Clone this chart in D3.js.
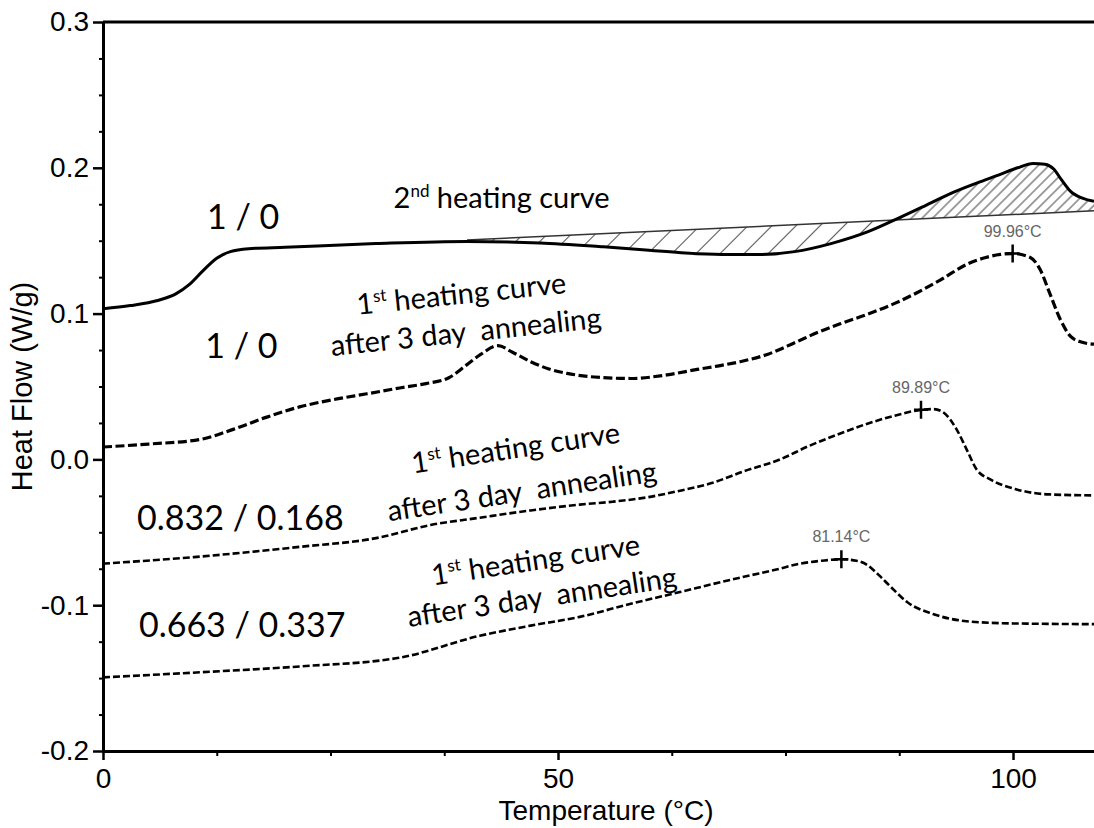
<!DOCTYPE html>
<html>
<head>
<meta charset="utf-8">
<script src="https://cdn.jsdelivr.net/npm/d3@7"></script>
<style>
  body { margin: 0; background: #fff; }
  svg { display: block; }
  .axis text { font-family: "Liberation Sans", Arial, sans-serif; font-size: 28px; fill: #000; }
  .axis path, .axis line { stroke: #000; }
  .title { font-family: "Liberation Sans", Arial, sans-serif; font-size: 28px; fill: #000; }
  .note { font-family: Lato, "Open Sans", sans-serif; fill: #000; }
  .peak { font-family: "Liberation Sans", Arial, sans-serif; font-size: 16px; fill: #666; }
</style>
</head>
<body>
<svg id="chart" width="1094" height="828"></svg>
<script>
// DSC heat flow curves, 1st and 2nd heating

var xTicks = [0, 50, 100];
var xTickLabels = ["0", "50", "100"];
var yTicks = [-0.2, -0.1, 0.0, 0.1, 0.2, 0.3];
var yTickLabels = ["-0.2", "-0.1", "0.0", "0.1", "0.2", "0.3"];

// 1/0, 2nd heating (solid)
var heat2T = [0, 3, 6, 8, 9.5, 11, 12.5, 14, 16, 20, 30, 40, 48, 55, 60, 64, 68, 72, 76, 80, 84, 87.6, 90, 93, 96, 98.6, 100.5, 102.2, 103.5, 104.5, 105.3, 106.3, 107.7, 108.9];
var heat2V = [0.1033, 0.1055, 0.109, 0.1135, 0.12, 0.1295, 0.138, 0.1425, 0.1445, 0.1455, 0.148, 0.1495, 0.1485, 0.1458, 0.1435, 0.1415, 0.1405, 0.1405, 0.1425, 0.148, 0.156, 0.166, 0.173, 0.182, 0.1895, 0.1955, 0.2, 0.203, 0.2025, 0.199, 0.192, 0.184, 0.179, 0.177];

// 1/0, 1st heating after annealing
var pureT = [0, 5, 10.7, 14.3, 18, 21.6, 25.3, 29, 32.6, 35.5, 38, 40, 41.5, 43.4, 45, 47, 49, 51, 54, 58, 62, 65.3, 67.5, 70, 73, 76, 78.5, 81, 84, 87, 89.5, 92, 95, 97, 98.6, 99.96, 101.9, 103, 104, 105.2, 106.3, 107.5, 108.9];
var pureV = [0.0085, 0.0105, 0.0137, 0.0206, 0.029, 0.036, 0.041, 0.045, 0.049, 0.052, 0.056, 0.065, 0.072, 0.078, 0.0735, 0.067, 0.062, 0.059, 0.0565, 0.0555, 0.058, 0.0617, 0.064, 0.067, 0.072, 0.08, 0.087, 0.093, 0.0995, 0.107, 0.1145, 0.123, 0.134, 0.1385, 0.1406, 0.1412, 0.1385, 0.13, 0.1145, 0.096, 0.0845, 0.0805, 0.079];

// 0.832/0.168, 1st heating after annealing
var blendAT = [0, 10, 21.6, 30, 36, 41.4, 47, 52.4, 56, 59.8, 63, 67, 70.5, 74.4, 77.5, 80.7, 84, 87, 89.89, 91.3, 92.4, 93.8, 94.9, 96, 97.5, 100.4, 104, 108.9];
var blendAV = [-0.0715, -0.067, -0.06, -0.054, -0.045, -0.04, -0.035, -0.031, -0.029, -0.026, -0.022, -0.016, -0.008, 0.0, 0.009, 0.017, 0.0245, 0.03, 0.034, 0.0345, 0.032, 0.0206, 0.0069, -0.0069, -0.0137, -0.0206, -0.024, -0.0247];

// 0.663/0.337, 1st heating after annealing
var blendBT = [0, 10.7, 21.6, 32.6, 41.4, 47, 52.4, 58, 63.4, 67, 70.8, 74, 76.6, 79, 81.14, 82.8, 84, 85.2, 86.5, 88.4, 91.2, 94.9, 100, 108.9];
var blendBV = [-0.1495, -0.146, -0.142, -0.136, -0.121, -0.114, -0.108, -0.099, -0.091, -0.0855, -0.08, -0.0755, -0.0715, -0.0695, -0.0685, -0.0695, -0.0725, -0.079, -0.087, -0.098, -0.106, -0.111, -0.1125, -0.113];

// integration baseline under the 2nd heating curve
var baseT = [40, 108.9];
var baseV = [0.1505, 0.1705];
var hatchSplitT = 86.8;

var peakT = [99.96, 89.89, 81.14];
var peakV = [0.1412, 0.034, -0.0685];
var peakLabels = ["99.96°C", "89.89°C", "81.14°C"];

var width = 1094, height = 828;
var svg = d3.select("#chart");

var x = d3.scaleLinear().domain([0, 108.9]).range([103, 1094]);
var y = d3.scaleLinear().domain([-0.2, 0.3]).range([751, 22]);

var zip = function (ts, vs) {
  return ts.map(function (t, i) { return { t: t, v: vs[i] }; });
};

///////////////////////////////////////////////////////////////////////////////
// hatch patterns

var defs = svg.append("defs");
var addHatch = function (id, gap) {
  var p = defs.append("pattern")
    .attr("id", id)
    .attr("patternUnits", "userSpaceOnUse")
    .attr("width", gap).attr("height", gap)
    .attr("patternTransform", "rotate(45)");
  p.append("line")
    .attr("x1", gap / 2).attr("y1", 0)
    .attr("x2", gap / 2).attr("y2", gap)
    .attr("stroke", "#555").attr("stroke-width", 1.1);
};
addHatch("hatchSparse", 17);
addHatch("hatchDense", 7.5);

var baseline = d3.scaleLinear().domain(baseT).range(baseV);

defs.append("clipPath").attr("id", "clipLeft").append("rect")
  .attr("x", x(baseT[0])).attr("y", 0)
  .attr("width", x(hatchSplitT) - x(baseT[0])).attr("height", height);
defs.append("clipPath").attr("id", "clipRight").append("rect")
  .attr("x", x(hatchSplitT)).attr("y", 0)
  .attr("width", x(baseT[1]) - x(hatchSplitT)).attr("height", height);

var heat2 = zip(heat2T, heat2V);

var area = d3.area()
  .x(function (d) { return x(d.t); })
  .y0(function (d) { return y(baseline(d.t)); })
  .y1(function (d) { return y(d.v); })
  .curve(d3.curveMonotoneX);

svg.append("path").datum(heat2)
  .attr("d", area)
  .attr("fill", "url(#hatchSparse)")
  .attr("clip-path", "url(#clipLeft)");
svg.append("path").datum(heat2)
  .attr("d", area)
  .attr("fill", "url(#hatchDense)")
  .attr("clip-path", "url(#clipRight)");

svg.append("line")
  .attr("x1", x(baseT[0])).attr("y1", y(baseV[0]))
  .attr("x2", x(baseT[1])).attr("y2", y(baseV[1]))
  .attr("stroke", "#333").attr("stroke-width", 1.5);

///////////////////////////////////////////////////////////////////////////////
// curves

var line = d3.line()
  .x(function (d) { return x(d.t); })
  .y(function (d) { return y(d.v); })
  .curve(d3.curveMonotoneX);

var series = [
  { pts: heat2, dash: null, w: 3 },
  { pts: zip(pureT, pureV), dash: "9,3.5", w: 3.2 },
  { pts: zip(blendAT, blendAV), dash: "7,3", w: 2.6 },
  { pts: zip(blendBT, blendBV), dash: "7,3", w: 2.6 }
];

series.forEach(function (s) {
  svg.append("path").datum(s.pts)
    .attr("d", line)
    .attr("fill", "none")
    .attr("stroke", "#000")
    .attr("stroke-width", s.w)
    .attr("stroke-dasharray", s.dash);
});

// peak markers
var peaks = svg.append("g");
peakT.forEach(function (t, i) {
  var px = x(t), py = y(peakV[i]);
  peaks.append("path")
    .attr("d", "M" + px + "," + (py - 9) + "V" + (py + 9) + "M" + (px - 7) + "," + py + "H" + (px + 7))
    .attr("stroke", "#000").attr("stroke-width", 2.5).attr("fill", "none");
  peaks.append("text").attr("class", "peak")
    .attr("x", px).attr("y", py - 17)
    .attr("text-anchor", "middle")
    .text(peakLabels[i]);
});

///////////////////////////////////////////////////////////////////////////////
// axes

var yAxis = svg.append("g").attr("class", "axis")
  .attr("transform", "translate(" + x(0) + ",0)")
  .call(d3.axisLeft(y).tickValues(yTicks)
    .tickFormat(function (d, i) { return yTickLabels[i]; })
    .tickSize(10).tickSizeOuter(0).tickPadding(4));
yAxis.select(".domain").attr("stroke-width", 3);
yAxis.selectAll(".tick line").attr("stroke-width", 2.5);

var yMinor = d3.range(-0.2, 0.3, 0.025).filter(function (d, i) { return i % 4 !== 0; });
svg.append("g").attr("class", "axis")
  .attr("transform", "translate(" + x(0) + ",0)")
  .call(d3.axisLeft(y).tickValues(yMinor).tickFormat("").tickSize(4))
  .call(function (g) { g.select(".domain").remove(); })
  .selectAll(".tick line").attr("stroke-width", 2);

var xAxis = svg.append("g").attr("class", "axis")
  .attr("transform", "translate(0," + y(-0.2) + ")")
  .call(d3.axisBottom(x).tickValues(xTicks)
    .tickFormat(function (d, i) { return xTickLabels[i]; })
    .tickSize(9).tickSizeOuter(0).tickPadding(8));
xAxis.select(".domain").attr("stroke-width", 3);
xAxis.selectAll(".tick line").attr("stroke-width", 2.5);

var xMinor = [12.5, 25, 37.5, 62.5, 75, 87.5];
svg.append("g").attr("class", "axis")
  .attr("transform", "translate(0," + y(-0.2) + ")")
  .call(d3.axisBottom(x).tickValues(xMinor).tickFormat("").tickSize(5))
  .call(function (g) { g.select(".domain").remove(); })
  .selectAll(".tick line").attr("stroke-width", 2);

// top frame
svg.append("line")
  .attr("x1", x(0)).attr("y1", y(0.3))
  .attr("x2", width).attr("y2", y(0.3))
  .attr("stroke", "#000").attr("stroke-width", 3);

svg.append("text").attr("class", "title")
  .attr("x", 606).attr("y", 820)
  .attr("text-anchor", "middle")
  .text("Temperature (°C)");

svg.append("text").attr("class", "title")
  .attr("transform", "translate(32," + ((y(0.3) + y(-0.2)) / 2) + ") rotate(-90)")
  .attr("text-anchor", "middle")
  .style("font-size", "29px")
  .text("Heat Flow (W/g)");

///////////////////////////////////////////////////////////////////////////////
// annotations

var ratioLabels = ["1 / 0", "1 / 0", "0.832 / 0.168", "0.663 / 0.337"];
var ratioT = [15.4, 15.2, 15.1, 15.3];
var ratioV = [0.158, 0.0696, -0.0485, -0.1217];

ratioLabels.forEach(function (s, i) {
  svg.append("text").attr("class", "note")
    .attr("x", x(ratioT[i])).attr("y", y(ratioV[i]))
    .attr("text-anchor", "middle")
    .style("font-size", "34px")
    .text(s);
});

var noteSize = 29;
var addNote = function (parts, t, v, angle) {
  var txt = svg.append("text").attr("class", "note")
    .attr("xml:space", "preserve")
    .attr("text-anchor", "middle")
    .attr("transform", "translate(" + x(t) + "," + y(v) + ") rotate(" + angle + ")")
    .style("font-size", noteSize + "px");
  var lift = 0;
  parts.forEach(function (p) {
    var dy = p.sup ? -11 - lift : -lift;
    lift = p.sup ? -11 : 0;
    txt.append("tspan")
      .attr("dy", dy)
      .style("font-size", p.sup ? "17px" : null)
      .text(p.s);
  });
};

var firstLine = [{ s: "1" }, { s: "st", sup: true }, { s: " heating curve" }];
var secondLine = [{ s: "after 3 day  annealing" }];

addNote([{ s: "2" }, { s: "nd", sup: true }, { s: " heating curve" }], 43.8, 0.1724, 0);

addNote(firstLine, 39.5, 0.1067, -6);
addNote(secondLine, 40.0, 0.0806, -6);
addNote(firstLine, 45.5, 0.001, -8.5);
addNote(secondLine, 46.2, -0.0287, -8.5);
addNote(firstLine, 47.7, -0.0758, -8.5);
addNote(secondLine, 48.4, -0.1012, -8.5);
</script>
</body>
</html>
